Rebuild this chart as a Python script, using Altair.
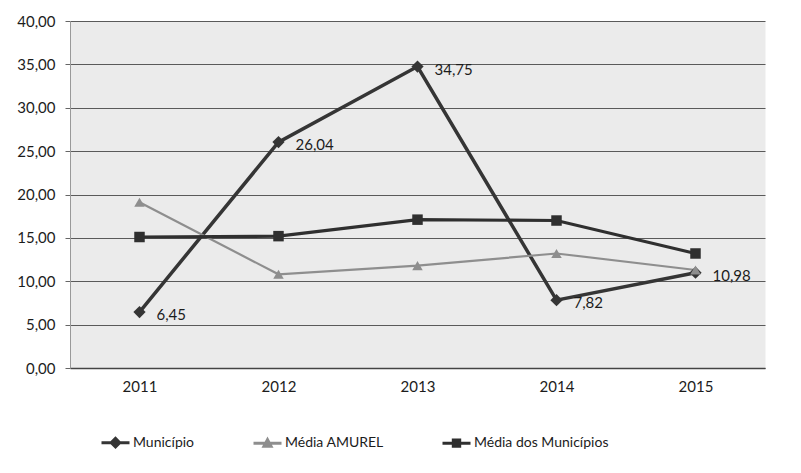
import altair as alt
import pandas as pd

years = ["2011", "2012", "2013", "2014", "2015"]
municipio = [6.45, 26.04, 34.75, 7.82, 10.98]
media_amurel = [19.1, 10.8, 11.8, 13.2, 11.3]
media_municipios = [15.1, 15.2, 17.1, 17.0, 13.2]
series_names = ["Município", "Média AMUREL", "Média dos Municípios"]
colors = ["#353535", "#8e8e8e", "#2f2f2f"]
widths = [3.5, 2.2, 3.2]
shapes = ["diamond", "triangle-up", "square"]
sizes = [150, 110, 110]
y_ticks = [0, 5, 10, 15, 20, 25, 30, 35, 40]
legend_paths = [
    "M-1.4,0H1.4M-0.42,0L0,-0.42L0.42,0L0,0.42Z",
    "M-1.4,0H1.4M-0.35,0.3L0,-0.35L0.35,0.3Z",
    "M-1.4,0H1.4M-0.32,-0.32H0.32V0.32H-0.32Z",
]

rows = []
for name, vals in zip(series_names, [municipio, media_amurel, media_municipios]):
    for yr, v in zip(years, vals):
        rows.append({"year": yr, "series": name, "value": v})
df = pd.DataFrame(rows)

FONT = "Lato"
TXT = "#1c1c1c"
fmt = "replace(format(datum.value, '.2f'), '.', ',')"

x = alt.X("year:O", title=None,
          scale=alt.Scale(type="point", padding=0.5),
          axis=alt.Axis(labelAngle=0, labelFontSize=15, labelColor=TXT, labelPadding=11,
                        ticks=False, domainColor="#444", domainWidth=1.5, grid=False,
                        labelFont=FONT))
y = alt.Y("value:Q", title=None,
          scale=alt.Scale(domain=[0, 40], nice=False),
          axis=alt.Axis(values=y_ticks, labelExpr=fmt, labelFontSize=15, labelColor=TXT,
                        labelPadding=10, tickSize=5, tickColor="#666", domainColor="#999",
                        gridColor="#5a5a5a", gridWidth=1.1, labelFont=FONT))

base = alt.Chart(df)

layers = []
for name, col, w in zip(series_names, colors, widths):
    layers.append(base.transform_filter(alt.datum.series == name)
                  .mark_line(color=col, strokeWidth=w).encode(x=x, y=y))
for name, col, shp, sz in zip(series_names, colors, shapes, sizes):
    layers.append(base.transform_filter(alt.datum.series == name)
                  .mark_point(color=col, filled=True, shape=shp, size=sz, opacity=1)
                  .encode(x=x, y=y))

labels = (base.transform_filter(alt.datum.series == "Município")
          .transform_calculate(label=fmt)
          .mark_text(align="left", baseline="middle", dx=17, dy=3, fontSize=15,
                     font=FONT, color=TXT)
          .encode(x=x, y=y, text="label:N"))
layers.append(labels)

legend_layer = (base.transform_filter("datum.value < 0")
                .mark_point(filled=True)
                .encode(
                    x=x, y=y,
                    fill=alt.Fill("series:N", title=None,
                                  scale=alt.Scale(domain=series_names, range=colors)),
                    stroke=alt.Stroke("series:N", title=None,
                                      scale=alt.Scale(domain=series_names, range=colors)),
                    shape=alt.Shape("series:N", title=None,
                                    scale=alt.Scale(domain=series_names, range=legend_paths)),
                ))
layers.append(legend_layer)

chart = (alt.layer(*layers)
         .properties(width=695, height=347,
                     autosize=alt.AutoSizeParams(type="none"),
                     padding={"left": 62, "top": 13, "right": 25, "bottom": 100})
         .configure_view(fill="#ebebeb", stroke="transparent")
         .configure_legend(orient="none", legendX=34, legendY=410, direction="horizontal",
                           symbolSize=400, symbolStrokeWidth=3, symbolOpacity=1,
                           labelFontSize=14, labelFont=FONT, labelColor=TXT,
                           columnPadding=52, labelOffset=6, padding=0))

chart.save("out.html", embed_options={"renderer": "svg", "actions": False})
